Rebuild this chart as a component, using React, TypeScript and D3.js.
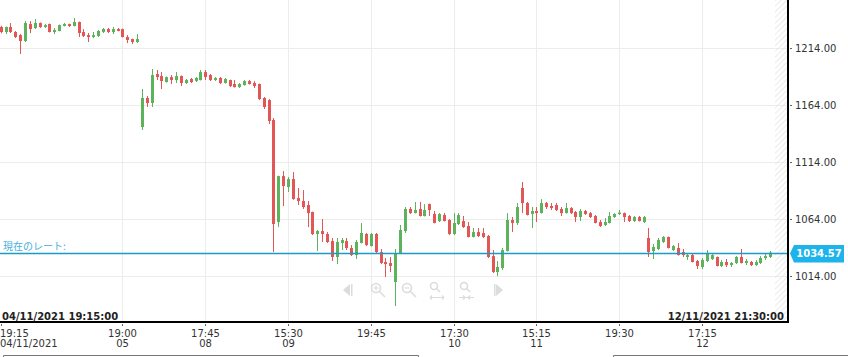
import React from "react";
import * as d3 from "d3";

const opens = [1232.8,1228.4,1232.8,1228.4,1225.7,1220.5,1235.4,1231.9,1236.3,1232.8,1235.4,1228.4,1229.3,1233.7,1235.4,1233.7,1237.2,1228.4,1225.7,1224.0,1224.9,1228.4,1231.0,1228.4,1231.0,1231.0,1224.0,1222.2,1219.6,
1144.9,1170.4,1166.0,1191.5,1189.7,1184.4,1188.8,1186.2,1189.7,1183.6,1187.1,1185.3,1186.2,1193.2,1190.6,1186.2,1188.0,1183.6,1186.2,1182.7,1180.0,1181.8,1185.3,1183.6,1182.7,1170.4,1168.6,
1151.1,1061.4,1101.8,1092.2,1099.2,1082.5,1079.9,1076.4,1070.2,1050.9,1053.5,1050.9,1044.7,1030.7,1043.0,1044.7,1038.6,1032.4,1043.0,1050.9,1040.3,1050.9,1035.1,1026.3,1025.4,1008.7,
1034.2,1053.5,1072.9,1069.3,1072.9,1066.7,1077.2,1068.5,1062.3,1067.6,1063.2,1050.9,1059.7,1062.3,1057.9,1048.3,1052.6,1051.8,1049.1,1031.5,1017.5,1021.0,1035.9,1063.2,1060.6,1091.3,
1078.1,1068.5,1071.1,1069.3,1078.1,1075.5,1076.4,1072.9,1069.3,1073.7,1070.2,1065.8,1071.1,1069.3,1066.7,1061.4,1058.8,1060.6,1065.8,1068.5,1069.3,1066.7,1062.3,1065.8,1061.4,
1047.4,1035.9,1037.7,1043.9,1048.3,1036.8,1038.6,1035.1,1030.7,1032.4,1027.2,1021.9,1027.2,1028.9,1030.7,1022.8,1026.3,1023.6,1025.4,1030.7,1025.4,1026.3,1023.6,1025.4,1029.8,1030.7];
const highs = [1233.9,1233.2,1236.3,1229.3,1226.6,1238.0,1238.0,1239.8,1236.8,1235.4,1235.8,1231.9,1235.0,1236.3,1235.8,1240.7,1237.6,1231.0,1227.5,1228.4,1230.2,1231.9,1231.9,1232.8,1231.9,1231.4,1225.7,1222.6,1226.6,
1178.3,1172.1,1195.9,1195.0,1193.2,1189.3,1190.6,1193.2,1190.2,1187.1,1188.0,1188.8,1195.0,1195.0,1191.5,1188.8,1188.8,1188.0,1186.6,1186.2,1183.6,1186.2,1186.2,1185.3,1183.1,1171.3,1169.5,
1152.8,1102.2,1106.2,1101.0,1105.4,1091.3,1089.5,1079.9,1070.6,1054.4,1064.1,1052.6,1047.4,1047.4,1047.4,1047.4,1041.2,1045.6,1060.6,1051.8,1051.8,1051.8,1037.7,1029.8,1030.7,1037.7,
1058.8,1074.6,1074.6,1079.0,1079.0,1077.2,1077.6,1071.1,1069.3,1069.3,1064.1,1069.3,1069.3,1066.7,1061.4,1056.2,1056.2,1056.2,1050.0,1036.8,1027.2,1038.6,1069.3,1065.8,1078.1,1096.6,
1079.0,1074.6,1074.6,1081.6,1079.0,1078.1,1078.1,1074.6,1078.1,1074.6,1071.1,1072.9,1072.0,1070.2,1067.6,1063.2,1064.9,1070.2,1069.3,1072.0,1069.8,1067.6,1066.7,1066.7,1066.7,
1056.2,1042.1,1047.4,1049.1,1048.7,1041.2,1043.0,1037.7,1034.2,1033.3,1028.1,1029.8,1036.8,1034.2,1031.1,1028.1,1028.9,1026.3,1031.5,1037.7,1028.9,1027.2,1028.1,1031.5,1033.3,1036.0];
const lows = [1227.2,1226.6,1227.5,1223.1,1209.1,1219.6,1227.5,1231.0,1232.0,1231.9,1228.0,1226.6,1229.0,1233.3,1232.8,1233.3,1224.0,1224.0,1219.6,1223.1,1224.0,1227.5,1227.5,1226.6,1229.0,1223.6,1218.7,1217.8,1218.7,
1142.3,1162.5,1162.5,1186.2,1178.3,1184.0,1182.7,1183.6,1180.9,1182.7,1183.6,1184.4,1185.8,1186.2,1185.3,1185.3,1182.7,1183.2,1180.0,1179.6,1179.2,1181.3,1182.3,1179.2,1168.6,1160.7,1147.5,
1035.1,1057.0,1075.5,1087.8,1081.0,1076.4,1072.9,1057.0,1050.0,1035.9,1043.9,1043.0,1027.2,1024.5,1036.8,1036.8,1031.5,1028.9,1042.6,1040.3,1039.9,1034.2,1024.5,1013.1,1017.5,987.6,
1033.8,1051.8,1068.5,1068.9,1066.3,1066.3,1066.7,1060.2,1061.4,1061.9,1050.0,1050.0,1058.8,1056.2,1047.9,1047.9,1048.3,1047.4,1029.8,1016.6,1014.0,1019.3,1035.5,1052.6,1058.8,1069.3,
1067.2,1056.2,1061.4,1068.9,1072.9,1072.0,1071.1,1066.7,1068.9,1068.5,1061.4,1062.3,1067.6,1065.0,1060.2,1057.0,1057.9,1060.2,1065.0,1067.6,1061.4,1061.4,1061.4,1061.9,1060.6,
1030.7,1028.9,1036.8,1043.0,1038.2,1035.9,1032.0,1030.7,1028.1,1025.9,1020.1,1020.1,1026.3,1028.1,1022.4,1021.9,1021.9,1021.9,1024.5,1025.0,1023.6,1022.8,1022.8,1024.5,1028.1,1029.8];
const closes = [1228.4,1232.8,1228.4,1224.0,1220.5,1236.3,1231.0,1236.3,1232.8,1234.5,1228.4,1230.2,1234.5,1235.4,1233.7,1237.2,1227.5,1224.9,1224.0,1225.7,1229.3,1231.0,1228.4,1231.0,1229.3,1224.0,1221.4,1219.6,1222.2,
1170.4,1166.0,1190.6,1188.8,1185.3,1188.8,1186.2,1189.7,1183.6,1186.2,1184.4,1188.0,1193.2,1188.8,1186.2,1188.0,1183.6,1187.1,1180.9,1180.0,1182.7,1185.3,1182.7,1180.9,1169.5,1162.5,1150.2,
1059.7,1101.8,1093.1,1099.2,1081.6,1079.9,1074.6,1069.3,1050.9,1053.5,1050.9,1043.9,1030.7,1043.9,1045.6,1038.6,1032.4,1043.9,1051.8,1041.2,1050.9,1035.1,1025.4,1024.5,1022.8,1034.2,
1054.4,1072.9,1069.3,1072.0,1066.7,1072.0,1072.0,1060.6,1068.5,1062.3,1050.9,1060.6,1067.6,1057.0,1048.3,1052.6,1049.1,1048.3,1030.7,1017.5,1021.9,1036.8,1063.2,1060.6,1074.6,1078.1,
1067.6,1071.1,1069.3,1078.1,1074.6,1073.7,1072.0,1069.3,1073.7,1069.3,1065.8,1071.1,1068.5,1065.8,1060.6,1057.9,1061.4,1066.7,1068.5,1069.8,1065.8,1062.3,1065.8,1062.3,1065.8,
1035.1,1039.5,1045.6,1048.3,1038.6,1040.3,1032.4,1032.4,1032.4,1026.3,1022.8,1028.1,1034.2,1032.4,1022.8,1026.3,1023.6,1025.4,1030.7,1025.4,1027.2,1023.6,1026.3,1029.8,1031.5,1034.57];

const priceTicks = [1014, 1064, 1114, 1164, 1214];
const tickIndex = [0, 25, 42, 59, 76, 93, 110, 127, 144];
const tickTime = ["19:15", "19:00", "17:45", "15:30", "19:45", "17:30", "15:15", "19:30", "17:15"];
const tickDate = ["04/11/2021", "05", "08", "09", "", "10", "11", "", "12"];
const currentRate = 1034.57;
const startLabel = "04/11/2021 19:15:00";
const endLabel = "12/11/2021 21:30:00";
const rateLabel = "現在のレート:";

const W = 848, H = 357;
const plotRight = 787;
const plotBottom = 321;
const FONT = "'DejaVu Sans', Verdana, sans-serif";

export default function App() {
  const x = d3.scaleLinear().domain([0, 161]).range([0.7, 784.8]);
  const y = d3.scaleLinear().domain([1014, 1214]).range([276, 48.4]);
  const up = "#5cb35c";
  const down = "#e25656";
  const ctrl = "#dcdcdc";
  const ry = Math.round(y(currentRate)) + 0.5;

  return (
    <div style={{ position: "absolute", left: 0, top: 0 }}>
      <style>{`body{margin:0}`}</style>
      <svg width={W} height={H} style={{ display: "block", fontFamily: FONT }}>
        <defs>
          <pattern id="hatch" width="4" height="4" patternUnits="userSpaceOnUse" patternTransform="rotate(45)">
            <line x1="0" y1="0" x2="0" y2="4" stroke="#e2e2e2" strokeWidth="1.4" />
          </pattern>
        </defs>
        <rect x={0} y={0} width={W} height={H} fill="#fff" />
        {/* grid */}
        {priceTicks.map((p) => (
          <line key={"h" + p} x1={0} x2={plotRight} y1={Math.round(y(p)) + 0.5} y2={Math.round(y(p)) + 0.5} stroke="#ececec" />
        ))}
        {tickIndex.slice(1).map((i) => (
          <line key={"v" + i} x1={Math.round(x(i)) + 0.5} x2={Math.round(x(i)) + 0.5} y1={0} y2={plotBottom} stroke="#ececec" />
        ))}
        {/* hatched future area */}
        <rect x={775} y={0} width={plotRight - 775} height={plotBottom} fill="url(#hatch)" />
        {/* controls */}
        <g fill="none" stroke={ctrl} strokeWidth={1.6}>
          <path d="M350,284 L343,290 L350,296 Z" fill={ctrl} stroke="none" />
          <rect x={351} y={284} width={1.5} height={12} fill={ctrl} stroke="none" />
          <circle cx={376} cy={288} r={4.5} />
          <line x1={379.5} y1={291.5} x2={385} y2={297} />
          <line x1={373.5} y1={288} x2={378.5} y2={288} strokeWidth={1.2} />
          <line x1={376} y1={285.5} x2={376} y2={290.5} strokeWidth={1.2} />
          <circle cx={407} cy={288} r={4.5} />
          <line x1={410.5} y1={291.5} x2={416} y2={297} />
          <line x1={404.5} y1={288} x2={409.5} y2={288} strokeWidth={1.2} />
          <circle cx={434} cy={286} r={3.5} />
          <line x1={436.5} y1={288.5} x2={440} y2={292} />
          <path d="M430,297.5 H444 M430,297.5 l2,-2 M430,297.5 l2,2 M444,297.5 l-2,-2 M444,297.5 l-2,2" strokeWidth={1.2} />
          <circle cx={464} cy={286} r={3.5} />
          <line x1={466.5} y1={288.5} x2={470} y2={292} />
          <path d="M459,297.5 H474 M465,297.5 l-2,-2 M465,297.5 l-2,2 M468,297.5 l2,-2 M468,297.5 l2,2" strokeWidth={1.2} />
          <rect x={494} y={284} width={1.5} height={12} fill={ctrl} stroke="none" />
          <path d="M496,284 L503,290 L496,296 Z" fill={ctrl} stroke="none" />
        </g>
        {/* candles */}
        {opens.map((o, i) => {
          const c = closes[i];
          const col = c >= o ? up : down;
          const cx = Math.round(x(i));
          const top = y(Math.max(o, c));
          const bot = y(Math.min(o, c));
          const bh = Math.max(1, bot - top);
          return (
            <g key={i}>
              <line x1={cx + 0.5} x2={cx + 0.5} y1={y(highs[i])} y2={y(lows[i])} stroke={col} strokeWidth={1} />
              <rect x={cx - 1} y={top} width={3} height={bh} fill={col} />
            </g>
          );
        })}
        {/* current rate line */}
        <line x1={0} x2={plotRight} y1={ry} y2={ry} stroke="#1a9cc4" strokeWidth={1.3} />
        <text x={3} y={ry - 3.5} fontSize={10} fill="#3fb0e0" fontFamily="'Noto Sans CJK JP', sans-serif">{rateLabel}</text>
        {/* axes frame */}
        <rect x={0} y={plotBottom} width={plotRight + 2} height={2} fill="#000" />
        <rect x={plotRight} y={0} width={2} height={plotBottom + 2} fill="#000" />
        {/* range date labels */}
        <text x={2} y={plotBottom - 1.5} fontSize={10} fontWeight="bold" fill="#222">{startLabel}</text>
        <text x={784} y={plotBottom - 1.5} fontSize={10} fontWeight="bold" fill="#222" textAnchor="end">{endLabel}</text>
        {/* y axis labels */}
        {priceTicks.map((p) => (
          <g key={"yl" + p}>
            <rect x={790} y={Math.round(y(p))} width={2} height={1} fill="#666" />
            <text x={795} y={y(p) + 3.6} fontSize={10} fill="#333">{d3.format(".2f")(p)}</text>
          </g>
        ))}
        {/* current rate badge */}
        <path d={`M790,${ry} L794,${ry - 8.5} H844 V${ry + 9} H794 Z`} fill="#1cb4ea" />
        <text x={819} y={ry + 3.6} fontSize={10} fontWeight="bold" fill="#fff" textAnchor="middle">{d3.format(".2f")(currentRate)}</text>
        {/* x axis labels */}
        {tickIndex.map((i, k) => {
          const tx = Math.round(x(i));
          const anchor = k === 0 ? "start" : "middle";
          const lx = k === 0 ? 0 : tx + 0.5;
          return (
            <g key={"xl" + i}>
              <rect x={tx} y={324} width={1} height={2} fill="#666" />
              <text x={lx} y={337} fontSize={10} fill="#333" textAnchor={anchor}>{tickTime[k]}</text>
              <text x={lx} y={347.3} fontSize={10} fill="#333" textAnchor={anchor}>{tickDate[k]}</text>
            </g>
          );
        })}
        {/* navigator edges */}
        <path d="M3.5,357 V355.5 H418.5 V357" fill="none" stroke="#777" />
        <path d="M613.5,357 V355.5 H848" fill="none" stroke="#777" />
      </svg>
    </div>
  );
}
